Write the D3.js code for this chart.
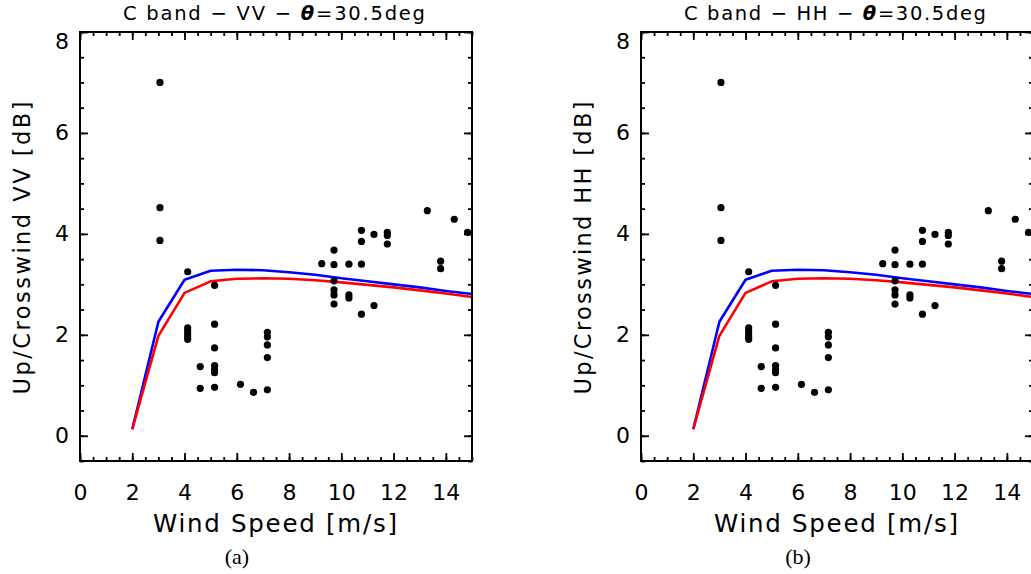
<!DOCTYPE html>
<html>
<head>
<meta charset="utf-8">
<script src="https://cdn.jsdelivr.net/npm/d3@7"></script>
<style>
  html, body { margin: 0; padding: 0; background: #fff; }
  svg { display: block; }
  text { font-family: "DejaVu Sans", sans-serif; fill: #000; }
</style>
</head>
<body>
<svg id="chart" width="1031" height="574"></svg>
<script>
// ---------------- data ----------------
const modelWind = [2, 3, 4, 5, 6, 7, 8, 9, 10, 11, 12, 13, 14, 15];
const modelBlue = [0.13, 2.26, 3.09, 3.27, 3.29, 3.28, 3.24, 3.19, 3.12, 3.06, 3.00, 2.94, 2.87, 2.81];
const modelRed  = [0.13, 1.98, 2.83, 3.06, 3.11, 3.12, 3.11, 3.08, 3.04, 2.99, 2.94, 2.88, 2.82, 2.75];

const obsWind = [
  3.06, 3.06, 3.06,
  4.12, 4.12, 4.12, 4.12, 4.12, 4.12,
  4.60, 4.60,
  5.15, 5.15, 5.15, 5.15, 5.15, 5.15, 5.15,
  6.14, 6.64,
  7.17, 7.17, 7.17, 7.17, 7.17,
  9.25,
  9.72, 9.72, 9.72, 9.72, 9.72, 9.72,
  10.29, 10.29, 10.29,
  10.77, 10.77, 10.77, 10.77,
  11.25, 11.25,
  11.76, 11.76, 11.76,
  13.29, 13.80, 13.80, 14.32, 14.83
];
const obsRatio = [
  7.00, 4.52, 3.87,
  3.25, 2.14, 2.08, 2.02, 1.96, 1.91,
  1.37, 0.94,
  2.98, 2.21, 1.74, 1.39, 1.31, 1.25, 0.96,
  1.02, 0.86,
  2.05, 1.96, 1.80, 1.55, 0.91,
  3.41,
  3.68, 3.39, 3.07, 2.89, 2.79, 2.61,
  3.40, 2.79, 2.73,
  4.07, 3.85, 3.40, 2.41,
  3.99, 2.58,
  4.03, 3.97, 3.80,
  4.46, 3.46, 3.31, 4.29, 4.03
];

const xMajorTicks = [0, 2, 4, 6, 8, 10, 12, 14];
const yMajorTicks = [0, 2, 4, 6, 8];
const panelTitles = ["VV", "HH"];
const panelTags = ["(a)", "(b)"];
const xLabel = "Wind Speed [m/s]";

// ---------------- drawing ----------------
const svg = d3.select("#chart");
const W = 392, H = 429;   // plot area size
const panelOffsets = [80, 641];
const plotTop = 32;

function drawPanel(px, pol, tag) {
  const g = svg.append("g").attr("transform", `translate(${px},${plotTop})`);
  const x = d3.scaleLinear().domain([0, 15]).range([0, W]);
  const y = d3.scaleLinear().domain([-0.5, 8]).range([H, 0]);

  const xMinor = d3.range(0, 15.01, 0.5);
  const yMinor = d3.range(-0.5, 8.01, 0.5);

  function styleAxis(sel) {
    sel.select(".domain").remove();
    sel.selectAll(".tick line").attr("stroke", "#000").attr("stroke-width", 1.8);
    sel.selectAll(".tick text").attr("font-size", 22).attr("font-family", "DejaVu Sans, sans-serif").attr("fill", "#000");
  }

  // minor ticks
  g.append("g").attr("transform", `translate(0,${H})`)
    .call(d3.axisBottom(x).tickValues(xMinor).tickSize(-4).tickFormat(""))
    .call(styleAxis);
  g.append("g")
    .call(d3.axisTop(x).tickValues(xMinor).tickSize(-4).tickFormat(""))
    .call(styleAxis);
  g.append("g")
    .call(d3.axisLeft(y).tickValues(yMinor).tickSize(-4).tickFormat(""))
    .call(styleAxis);
  g.append("g").attr("transform", `translate(${W},0)`)
    .call(d3.axisRight(y).tickValues(yMinor).tickSize(-4).tickFormat(""))
    .call(styleAxis);

  // major ticks
  g.append("g").attr("transform", `translate(0,${H})`)
    .call(d3.axisBottom(x).tickValues(xMajorTicks).tickSize(-8).tickPadding(23).tickFormat(d3.format("d")))
    .call(styleAxis);
  g.append("g")
    .call(d3.axisTop(x).tickValues(xMajorTicks).tickSize(-8).tickFormat(""))
    .call(styleAxis);
  const yAx = g.append("g")
    .call(d3.axisLeft(y).tickValues(yMajorTicks).tickSize(-8).tickPadding(11).tickFormat(d3.format("d")))
    .call(styleAxis);
  // top label sits just below the top edge, as in the original
  yAx.selectAll(".tick text").filter(d => d === 8).attr("dy", "0.75em");
  g.append("g").attr("transform", `translate(${W},0)`)
    .call(d3.axisRight(y).tickValues(yMajorTicks).tickSize(-8).tickFormat(""))
    .call(styleAxis);

  // clip
  const clipId = "clip-" + pol;
  g.append("clipPath").attr("id", clipId).append("rect")
    .attr("x", 0).attr("y", 0).attr("width", W).attr("height", H);
  const plot = g.append("g").attr("clip-path", `url(#${clipId})`);

  const line = d3.line().x((d, i) => x(modelWind[i])).y(d => y(d));
  plot.append("path").datum(modelBlue).attr("d", line)
    .attr("fill", "none").attr("stroke", "#0000ff").attr("stroke-width", 2.6).attr("stroke-linejoin", "round");
  plot.append("path").datum(modelRed).attr("d", line)
    .attr("fill", "none").attr("stroke", "#ff0000").attr("stroke-width", 2.6).attr("stroke-linejoin", "round");

  plot.selectAll("circle.obs").data(obsRatio).enter().append("circle")
    .attr("class", "obs")
    .attr("cx", (d, i) => x(obsWind[i]))
    .attr("cy", d => y(d))
    .attr("r", 3.6)
    .attr("fill", "#000");

  // frame
  g.append("rect").attr("x", 0).attr("y", 0).attr("width", W).attr("height", H)
    .attr("fill", "none").attr("stroke", "#000").attr("stroke-width", 2);

  // title
  const t = g.append("text").attr("x", W / 2 - 2).attr("y", 20 - plotTop)
    .attr("text-anchor", "middle").attr("font-size", 19.5)
    .attr("textLength", 302).attr("lengthAdjust", "spacing");
  t.append("tspan").text("C band \u2212 " + pol + " \u2212 ");
  t.append("tspan").attr("font-weight", "bold").attr("font-style", "italic").text("\u03b8");
  t.append("tspan").text("=30.5deg");

  // x label
  g.append("text").attr("x", W / 2 - 1).attr("y", 532 - plotTop)
    .attr("text-anchor", "middle").attr("font-size", 24.5)
    .attr("textLength", 244).attr("lengthAdjust", "spacing")
    .text(xLabel);

  // y label
  g.append("text")
    .attr("transform", `translate(${30 - 80},${248 - plotTop}) rotate(-90)`)
    .attr("text-anchor", "middle").attr("font-size", 22.5)
    .attr("textLength", 293).attr("lengthAdjust", "spacing")
    .text("Up/Crosswind " + pol + " [dB]");

  // panel tag
  g.append("text").attr("x", 237 - 80).attr("y", 564 - plotTop)
    .attr("text-anchor", "middle").attr("font-size", 22)
    .style("font-family", "'Liberation Serif', 'Times New Roman', serif")
    .text(tag);
}

panelTitles.forEach((pol, i) => drawPanel(panelOffsets[i], pol, panelTags[i]));
</script>
</body>
</html>
